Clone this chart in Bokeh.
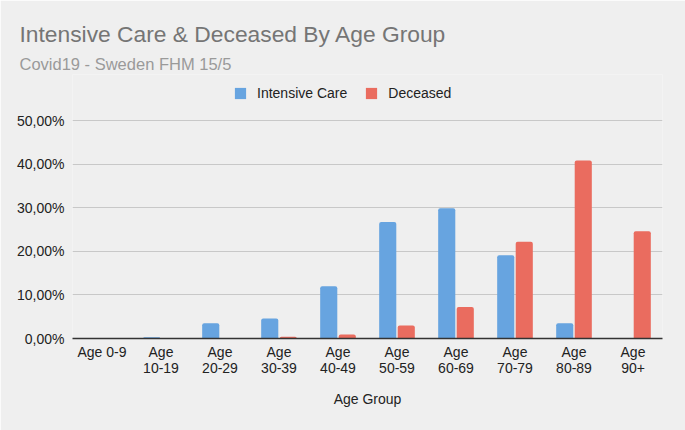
from bokeh.plotting import figure
from bokeh.models import (ColumnDataSource, Range1d, FixedTicker, Title,
                          Legend, LegendItem, LinearAxis)
from bokeh.transform import dodge
from bokeh.embed import file_html
from bokeh.resources import INLINE

# ---- data ----
categories = ["Age 0-9", "Age 10-19", "Age 20-29", "Age 30-39", "Age 40-49",
              "Age 50-59", "Age 60-69", "Age 70-79", "Age 80-89", "Age 90+"]
tick_labels_line1 = ["Age 0-9", "Age", "Age", "Age", "Age",
                     "Age", "Age", "Age", "Age", "Age"]
tick_labels_line2 = ["", "10-19", "20-29", "30-39", "40-49",
                     "50-59", "60-69", "70-79", "80-89", "90+"]
intensive_care = [0.0, 0.3, 3.5, 4.6, 12.0, 26.7, 29.9, 19.1, 3.5, 0.0]
deceased = [0.0, 0.0, 0.05, 0.4, 0.9, 3.0, 7.2, 22.2, 40.8, 24.6]
y_ticks = [0, 10, 20, 30, 40, 50]
y_tick_labels = ["0,00%", "10,00%", "20,00%", "30,00%", "40,00%", "50,00%"]
title_text = "Intensive Care & Deceased By Age Group"
subtitle_text = "Covid19 - Sweden FHM 15/5"
series_names = ["Intensive Care", "Deceased"]
x_title = "Age Group"

FONT = "Liberation Sans"
BG = "#efefef"
BLUE = "#67a4e0"
RED = "#ea6c5f"
W, H = 685, 430

# layout (pixels inside the figure)
FRAME_LEFT = 72
FRAME_RIGHT = 662
FRAME_TOP = 74        # top of plotting frame (legend lives inside it)
FRAME_BOTTOM = 338    # y of the 0 % baseline
GRID_TOP = 120        # y of the top (50 %) gridline
y_max = y_ticks[-1]
y_end = y_max + (GRID_TOP - FRAME_TOP) * y_max / (FRAME_BOTTOM - GRID_TOP)

x_pos = list(range(len(categories)))
source = ColumnDataSource(dict(x=x_pos, ic=intensive_care, de=deceased))

p = figure(width=W, height=H, title=None,
           x_range=Range1d(-0.5, len(categories) - 0.5), y_range=Range1d(0, y_end),
           output_backend="svg", toolbar_location=None, x_axis_type=None,
           min_border_left=FRAME_LEFT, min_border_right=W - FRAME_RIGHT,
           min_border_top=FRAME_TOP, min_border_bottom=H - FRAME_BOTTOM)
p.background_fill_color = BG
p.border_fill_color = BG
p.outline_line_color = None

r1 = p.vbar(x=dodge("x", -0.157), top="ic", width=0.29, source=source,
            fill_color=BLUE, line_color=None, border_radius=(2, 2, 0, 0))
r2 = p.vbar(x=dodge("x", 0.157), top="de", width=0.29, source=source,
            fill_color=RED, line_color=None, border_radius=(2, 2, 0, 0))

p.xgrid.grid_line_color = None
p.ygrid.grid_line_color = "#c8c8c8"
p.ygrid.grid_line_width = 1
p.yaxis.ticker = FixedTicker(ticks=y_ticks)
p.yaxis.major_label_overrides = {t: l for t, l in zip(y_ticks, y_tick_labels)}
p.yaxis.axis_line_color = None
p.yaxis.major_tick_line_color = None
p.yaxis.minor_tick_line_color = None
p.yaxis.major_tick_out = 0
p.yaxis.major_tick_in = 0
p.yaxis.minor_tick_out = 0
p.yaxis.major_label_standoff = 8
p.yaxis.major_label_text_font = FONT
p.yaxis.major_label_text_font_size = "14px"
p.yaxis.major_label_text_color = "#222222"

common = dict(ticker=FixedTicker(ticks=x_pos), major_tick_line_color=None,
              minor_tick_line_color=None, major_tick_out=0, major_tick_in=0,
              minor_tick_out=0, minor_tick_in=0, major_label_text_font=FONT,
              major_label_text_font_size="14px", major_label_text_color="#222222")
xa1 = LinearAxis(major_label_overrides={i: l for i, l in zip(x_pos, tick_labels_line1)},
                 axis_line_color="#333333", axis_line_width=1.5,
                 major_label_standoff=5, **common)
xa2 = LinearAxis(major_label_overrides={i: l for i, l in zip(x_pos, tick_labels_line2)},
                 axis_line_color=None, major_label_standoff=0,
                 axis_label=x_title, axis_label_text_font=FONT,
                 axis_label_text_font_size="14px", axis_label_text_font_style="normal",
                 axis_label_text_color="#222222", axis_label_standoff=15, **common)
p.add_layout(xa1, "below")
p.add_layout(xa2, "below")

legend = Legend(items=[LegendItem(label=series_names[0], renderers=[r1]),
                       LegendItem(label=series_names[1], renderers=[r2])],
                orientation="horizontal", location=(233 - FRAME_LEFT, FRAME_BOTTOM - 100.5),
                background_fill_alpha=0, border_line_color=None,
                padding=0, margin=0, spacing=17, label_standoff=10,
                glyph_width=14, glyph_height=14, label_height=14,
                label_text_font=FONT, label_text_font_size="14px",
                label_text_color="#222222")
p.add_layout(legend, "center")

p.add_layout(Title(text=subtitle_text, align="left", offset=20 - FRAME_LEFT - 1, standoff=4,
                   text_font=FONT, text_font_size="16.5px", text_font_style="normal",
                   text_color="#9a9a9a"), "above")
p.add_layout(Title(text=title_text, align="left", offset=20 - FRAME_LEFT - 1, standoff=8,
                   text_font=FONT, text_font_size="22.8px", text_font_style="normal",
                   text_color="#757575"), "above")

open("out.html", "w").write(file_html(p, INLINE))
